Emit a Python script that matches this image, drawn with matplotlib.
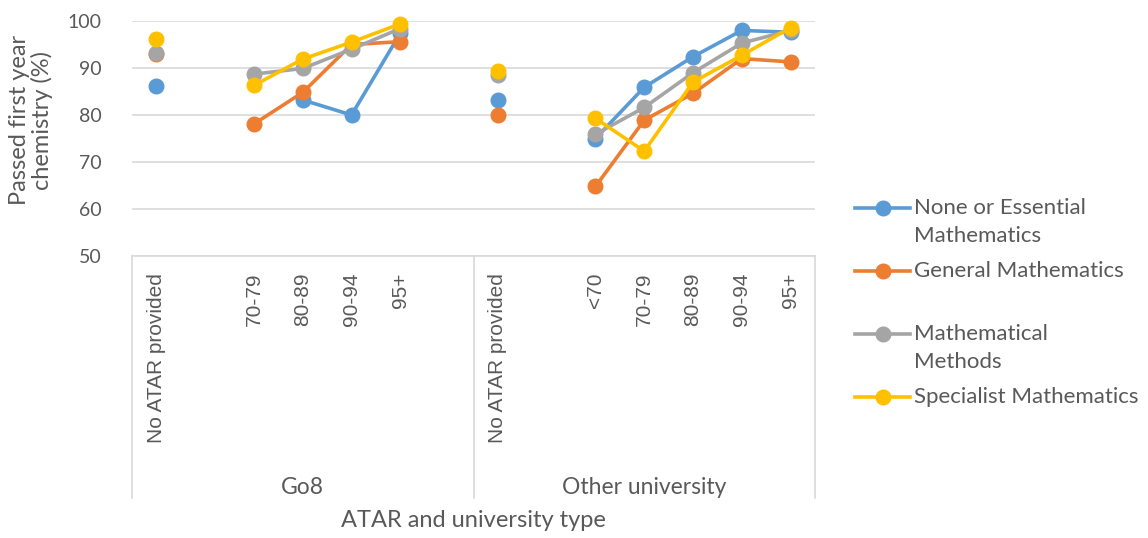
import matplotlib
matplotlib.use("Agg")
import matplotlib.pyplot as plt
from matplotlib.lines import Line2D
import numpy as np

nan = np.nan

# categories (two groups of seven slots, some slots empty)
kategorien = ["No ATAR provided", "", "70-79", "80-89", "90-94", "95+", "",
              "No ATAR provided", "", "<70", "70-79", "80-89", "90-94", "95+"]
gruppen = ["Go8", "Other university"]
gruppen_groesse = [7, 7]

serien_namen = ["None or Essential\nMathematics", "General Mathematics",
                "Mathematical\nMethods", "Specialist Mathematics"]
farben = ["#5B9BD5", "#ED7D31", "#A5A5A5", "#FFC000"]

none_essential = [86.1, nan, nan, 83.2, 80.0, 97.4, nan,
                  83.2, nan, 75.0, 85.9, 92.4, 98.0, 97.6]
general = [92.9, nan, 78.1, 84.8, 95.0, 95.6, nan,
           80.0, nan, 64.8, 78.9, 84.6, 92.0, 91.3]
methods = [93.1, nan, 88.7, 89.9, 94.0, 98.4, nan,
           88.6, nan, 75.9, 81.6, 89.0, 95.3, 98.0]
specialist = [96.2, nan, 86.3, 91.9, 95.5, 99.4, nan,
              89.4, nan, 79.3, 72.3, 87.0, 92.7, 98.6]

werte = [none_essential, general, methods, specialist]

TEXT = "#595959"
GRID = "#D9D9D9"
plt.rcParams['font.family'] = ['Lato', 'DejaVu Sans']

W, H = 1148, 538
fig = plt.figure(figsize=(W / 100, H / 100), dpi=100)
ax = fig.add_axes([132 / W, 1 - 256 / H, (815 - 132) / W, (256 - 21) / H])

x = np.arange(len(kategorien))
for serie, farbe in zip(werte, farben):
    ax.plot(x, serie, color=farbe, linewidth=2.6, marker='o',
            markersize=10.5, clip_on=False, zorder=3)

ax.set_xlim(-0.5, len(kategorien) - 0.5)
ax.set_ylim(50, 100)
ax.set_yticks([50, 60, 70, 80, 90, 100])
ax.yaxis.grid(True, color=GRID, linewidth=1.2)
ax.set_axisbelow(True)
for s in ["top", "right", "left"]:
    ax.spines[s].set_visible(False)
ax.spines["bottom"].set_color(GRID)
ax.spines["bottom"].set_linewidth(1.2)
ax.tick_params(axis='y', length=0, pad=22, labelsize=14, labelcolor=TEXT)
ax.set_xticks(x)
ax.set_xticklabels(kategorien, rotation=90, family=['Liberation Sans'])
ax.tick_params(axis='x', length=0, pad=12, labelsize=15, labelcolor=TEXT)

# group separators and group labels
trans = ax.get_xaxis_transform()
grenzen = np.concatenate([[0], np.cumsum(gruppen_groesse)]) - 0.5
for g in grenzen:
    ax.add_artist(Line2D([g, g], [0, -1.03], transform=trans, color=GRID,
                         linewidth=1.2, clip_on=False))
for i, name in enumerate(gruppen):
    mitte = (grenzen[i] + grenzen[i + 1]) / 2
    ax.text(mitte, -0.985, name, transform=trans, ha='center', va='center',
            fontsize=16.5, color=TEXT)

ax.text(0.5, -1.125, "ATAR and university type", transform=ax.transAxes,
        ha='center', va='center', fontsize=17, color=TEXT)
fig.text(31 / W, 1 - 120 / H, "Passed first year\nchemistry (%)", rotation=90,
         ha='center', va='center', fontsize=17, color=TEXT, linespacing=1.05)

# legend drawn by hand (Excel style: handle at first line)
for i, (name, farbe) in enumerate(zip(serien_namen, farben)):
    y0 = 208 + i * 63
    fig.add_artist(Line2D([855 / W, 910 / W], [1 - y0 / H, 1 - y0 / H],
                          color=farbe, linewidth=2.6))
    fig.add_artist(Line2D([883 / W], [1 - y0 / H], color=farbe, marker='o',
                          markersize=10.5))
    for j, zeile in enumerate(name.split("\n")):
        fig.text(914 / W, 1 - (y0 + j * 28) / H, zeile, ha='left',
                 va='center', fontsize=16, color=TEXT)

fig.savefig("out.png", dpi=100)
